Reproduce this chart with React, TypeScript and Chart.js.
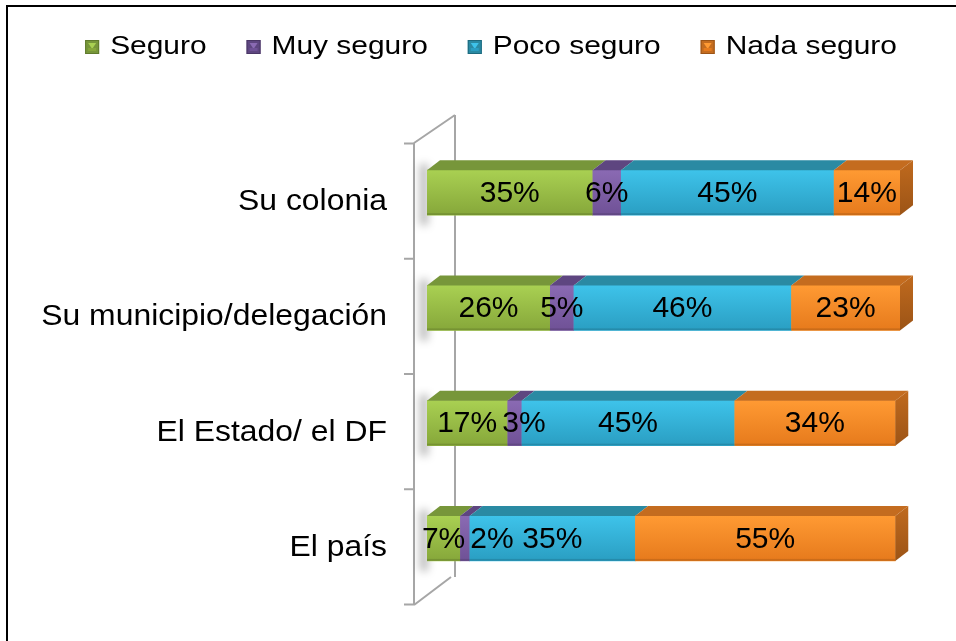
import React, { useEffect, useRef } from "react";
import { Chart, registerables } from "chart.js";

Chart.register(...registerables);

const categories = ["Su colonia", "Su municipio/delegación", "El Estado/ el DF", "El país"];
const seriesNames = ["Seguro", "Muy seguro", "Poco seguro", "Nada seguro"];
const seguro = [35, 26, 17, 7];
const muySeguro = [6, 5, 3, 2];
const pocoSeguro = [45, 46, 45, 35];
const nadaSeguro = [14, 23, 34, 55];

const frontTop = ["#a9d052", "#8a6ab3", "#3ec3ea", "#ff9a33"];
const frontBot = ["#86a73a", "#6f5196", "#2a9ec2", "#e67a1c"];
const topFace = ["#77963a", "#5e4680", "#2a8aa3", "#c46c1f"];
const sideTop = ["#6f8c34", "#553f75", "#237b92", "#c06a1e"];
const sideBot = ["#5f7a2c", "#4a3666", "#1d6a7e", "#9c5416"];

const DX = 13;
const DY = -10;
const FONT = '"Liberation Sans", Arial, sans-serif';

function drawText(
  ctx: CanvasRenderingContext2D,
  text: string,
  x: number,
  y: number,
  size: number,
  sx: number,
  align: CanvasTextAlign,
  color = "#000"
) {
  ctx.save();
  ctx.font = `${size}px ${FONT}`;
  ctx.textBaseline = "middle";
  ctx.fillStyle = color;
  ctx.translate(x, y);
  ctx.scale(sx, 1);
  ctx.textAlign = align;
  ctx.fillText(text, 0, 0);
  ctx.restore();
}

function textWidth(ctx: CanvasRenderingContext2D, text: string, size: number, sx: number) {
  ctx.save();
  ctx.font = `${size}px ${FONT}`;
  const w = ctx.measureText(text).width * sx;
  ctx.restore();
  return w;
}

const threeD = {
  id: "threeD",
  beforeDraw(chart: any) {
    const { ctx, width, height } = chart;
    ctx.save();
    ctx.fillStyle = "#fff";
    ctx.fillRect(0, 0, width, height);
    ctx.restore();
  },
  beforeDatasetsDraw(chart: any) {
    const { ctx, chartArea } = chart;
    const yScale = chart.scales.y;
    const fx = chartArea.left - 13;
    const wTop = chartArea.top + 8;
    const wBot = chartArea.bottom + 9;
    const wdx = 41;
    const wdy = -28;
    ctx.save();
    ctx.strokeStyle = "#a6a6a6";
    ctx.lineWidth = 2;
    ctx.beginPath();
    ctx.moveTo(fx, wTop);
    ctx.lineTo(fx, wBot);
    ctx.moveTo(fx + wdx, wTop + wdy);
    ctx.lineTo(fx + wdx, wBot + wdy);
    ctx.moveTo(fx, wTop);
    ctx.lineTo(fx + wdx, wTop + wdy);
    ctx.moveTo(fx, wBot);
    ctx.lineTo(fx + wdx - 4, wBot + wdy);
    for (let i = 0; i <= categories.length; i++) {
      const ty = yScale.getPixelForValue(i - 0.5) + 8.5;
      ctx.moveTo(fx - 10, ty);
      ctx.lineTo(fx, ty);
    }
    ctx.stroke();

    const meta0 = chart.getDatasetMeta(0);
    meta0.data.forEach((el: any) => {
      const t = el.y - el.height / 2;
      const l = Math.min(el.x, el.base);
      ctx.save();
      ctx.filter = "blur(4px)";
      ctx.fillStyle = "rgba(0,0,0,0.28)";
      ctx.fillRect(l - 7, t - 6, 8, el.height + 16);
      ctx.restore();
    });
    ctx.restore();
  },
  afterDatasetsDraw(chart: any) {
    const { ctx } = chart;
    const n = chart.data.datasets.length;
    categories.forEach((_, j) => {
      let lastEl: any = null;
      let lastDs = 0;
      for (let i = 0; i < n; i++) {
        const el: any = chart.getDatasetMeta(i).data[j];
        const v = chart.data.datasets[i].data[j];
        if (!el || !v) continue;
        const L = Math.min(el.x, el.base);
        const R = Math.max(el.x, el.base);
        const T = el.y - el.height / 2;
        const B = el.y + el.height / 2;
        const g = ctx.createLinearGradient(0, T, 0, B);
        g.addColorStop(0, frontTop[i]);
        g.addColorStop(1, frontBot[i]);
        ctx.fillStyle = g;
        ctx.fillRect(L, T, R - L, B - T);
        ctx.fillStyle = topFace[i];
        ctx.beginPath();
        ctx.moveTo(L, T);
        ctx.lineTo(R, T);
        ctx.lineTo(R + DX, T + DY);
        ctx.lineTo(L + DX, T + DY);
        ctx.closePath();
        ctx.fill();
        lastEl = el;
        lastDs = i;
      }
      if (lastEl) {
        const R = Math.max(lastEl.x, lastEl.base);
        const T = lastEl.y - lastEl.height / 2;
        const B = lastEl.y + lastEl.height / 2;
        const g = ctx.createLinearGradient(0, T + DY, 0, B);
        g.addColorStop(0, sideTop[lastDs]);
        g.addColorStop(1, sideBot[lastDs]);
        ctx.fillStyle = g;
        ctx.beginPath();
        ctx.moveTo(R, T);
        ctx.lineTo(R + DX, T + DY);
        ctx.lineTo(R + DX, B + DY);
        ctx.lineTo(R, B);
        ctx.closePath();
        ctx.fill();
        const base0 = chart.getDatasetMeta(0).data[j].base;
        ctx.fillStyle = "rgba(0,0,0,0.12)";
        ctx.fillRect(base0, B - 2, R - base0, 2);
      }
      let prevEnd = -Infinity;
      for (let i = 0; i < n; i++) {
        const el: any = chart.getDatasetMeta(i).data[j];
        const v = chart.data.datasets[i].data[j];
        if (!el || !v) continue;
        const text = `${v}%`;
        const w = textWidth(ctx, text, 30, 1);
        let cx = (el.x + el.base) / 2;
        if (cx - w / 2 < prevEnd + 5) cx = prevEnd + 5 + w / 2;
        drawText(ctx, text, cx, el.y + 1, 30, 1, "center");
        prevEnd = cx + w / 2;
      }
    });
  },
  afterDraw(chart: any) {
    const { ctx, chartArea } = chart;
    const yScale = chart.scales.y;
    categories.forEach((c, j) => {
      const y = yScale.getPixelForValue(j) + 9.5;
      drawText(ctx, c, chartArea.left - 40, y, 29, 1.1, "right", "#000");
    });
    const lsize = 26;
    const lsx = 1.15;
    const marker = 14;
    const mgap = 11;
    const igap = 40;
    const widths = seriesNames.map((s) => textWidth(ctx, s, lsize, lsx));
    const total = widths.reduce((a, b) => a + b, 0) + seriesNames.length * (marker + mgap) + (seriesNames.length - 1) * igap;
    let x = 491 - total / 2;
    const ly = 47;
    seriesNames.forEach((s, i) => {
      const mx = x;
      const my = ly - marker / 2;
      ctx.save();
      ctx.fillStyle = topFace[i];
      ctx.fillRect(mx, my, marker, marker);
      ctx.fillStyle = frontTop[i];
      ctx.beginPath();
      ctx.moveTo(mx + 3, my + 3);
      ctx.lineTo(mx + marker - 3, my + 3);
      ctx.lineTo(mx + marker / 2, my + marker / 2 + 2);
      ctx.closePath();
      ctx.fill();
      ctx.fillStyle = frontBot[i];
      ctx.fillRect(mx + 3, my + marker / 2 + 1, marker - 6, marker / 2 - 4);
      ctx.strokeStyle = sideBot[i];
      ctx.lineWidth = 1;
      ctx.strokeRect(mx + 0.5, my + 0.5, marker - 1, marker - 1);
      ctx.restore();
      drawText(ctx, s, mx + marker + mgap, ly, lsize, lsx, "left", "#000");
      x = mx + marker + mgap + widths[i] + igap;
    });
    ctx.save();
    ctx.strokeStyle = "#000";
    ctx.lineWidth = 2;
    ctx.beginPath();
    ctx.moveTo(7, chart.height + 5);
    ctx.lineTo(7, 6);
    ctx.lineTo(chart.width + 5, 6);
    ctx.stroke();
    ctx.restore();
  },
};

export default function App() {
  const ref = useRef<HTMLCanvasElement | null>(null);
  useEffect(() => {
    document.body.style.margin = "0";
    if (!ref.current) return;
    const seriesData = [seguro, muySeguro, pocoSeguro, nadaSeguro];
    const chart = new Chart(ref.current, {
      type: "bar",
      data: {
        labels: categories,
        datasets: seriesNames.map((name, i) => ({
          label: name,
          data: seriesData[i],
          backgroundColor: frontTop[i],
          borderWidth: 0,
          barThickness: 45,
        })),
      },
      options: {
        indexAxis: "y",
        responsive: false,
        animation: false,
        devicePixelRatio: 1,
        layout: { padding: { left: 427, right: 56, top: 135, bottom: 45 } },
        scales: {
          x: { stacked: true, min: 0, max: 100, display: false },
          y: { stacked: true, display: false },
        },
        plugins: {
          legend: { display: false },
          tooltip: { enabled: false },
        },
      },
      plugins: [threeD],
    });
    return () => chart.destroy();
  }, []);
  return (
    <div style={{ width: 956, height: 641 }}>
      <canvas ref={ref} width={956} height={641} />
    </div>
  );
}
